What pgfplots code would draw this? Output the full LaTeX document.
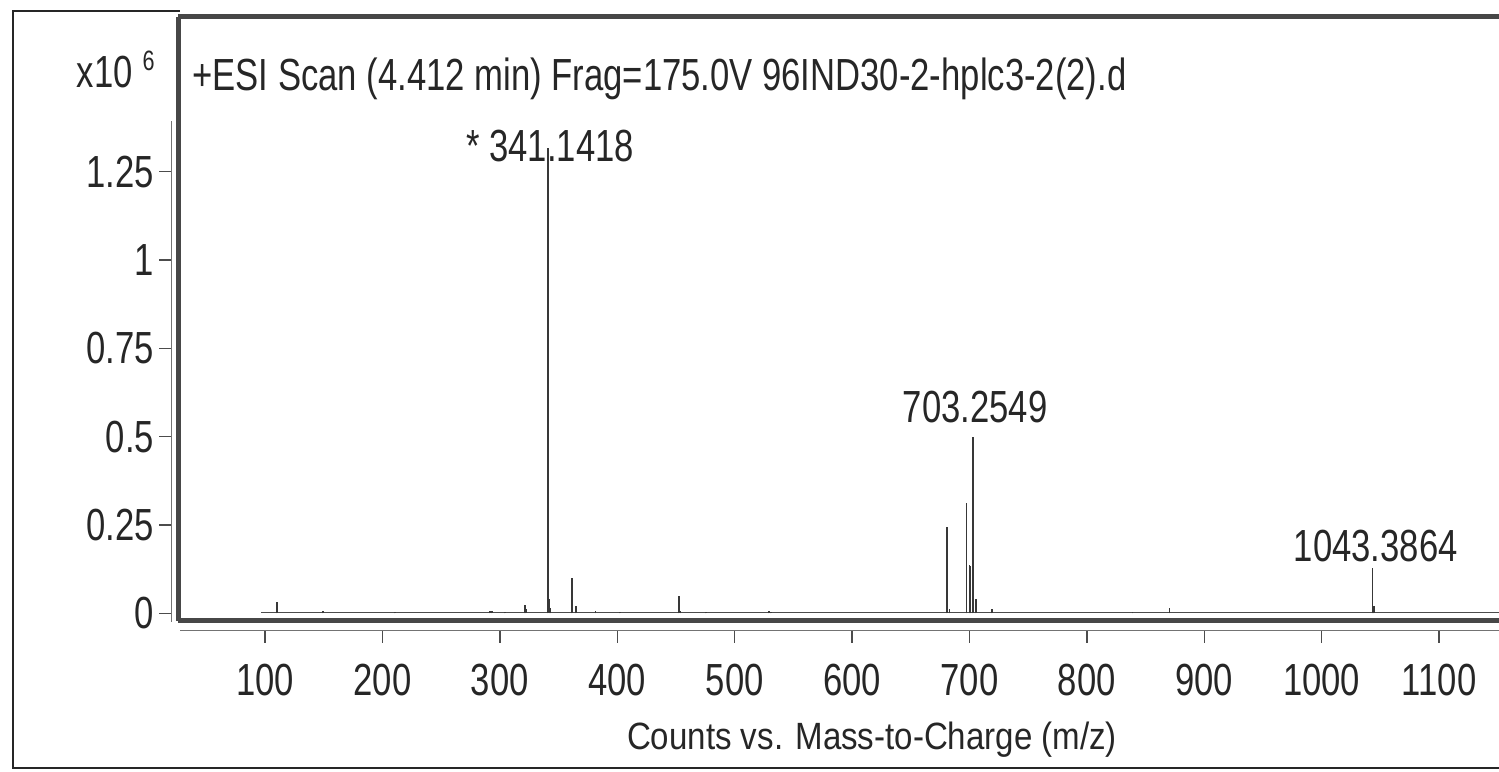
\documentclass[border=0pt]{standalone}
\usepackage{fontspec}
\setmainfont{Liberation Sans}[FakeStretch=0.77]
\newfontfamily\xlfont{Liberation Sans}[FakeStretch=0.87]
\usepackage{pgfplots}
\pgfplotsset{compat=1.18}
\begin{document}
\begin{tikzpicture}
\useasboundingbox (0,0) rectangle (749.5pt,385.5pt);
% outer frame
\draw[line width=1pt, black!85] (749.5pt,1.5pt) -- (6.5pt,1.5pt) -- (6.5pt,380pt) -- (90pt,380pt);
% thin secondary lines of the scan
\draw[line width=0.5pt, black!55] (85.5pt,74.5pt) -- (85.5pt,325pt);
\draw[line width=0.5pt, black!55] (90pt,70.2pt) -- (749.5pt,70.2pt);
\begin{axis}[
  at={(89pt,75.25pt)}, anchor=south west,
  scale only axis, width=660.5pt, height=301.75pt,
  xmin=25.9, xmax=1151, ymin=-0.0198, ymax=1.687,
  axis x line*=box, axis y line*=left,
  axis line style={line width=2.5pt, black!72},
  xtick={100,200,300,400,500,600,700,800,900,1000,1100},
  xticklabels={100,200,300,400,500,600,700,800,900,1000,1100},
  ytick={0,0.25,0.5,0.75,1,1.25},
  yticklabels={0,0.25,0.5,0.75,1,1.25},
  xtick pos=left, ytick pos=left,
  tick align=outside, major tick length=6pt,
  xtick style={black!70, line width=0.7pt, yshift=-5pt},
  ytick style={black!70, line width=0.7pt, xshift=-3.5pt},
  tick label style={font=\fontsize{22.5}{26}\selectfont, black!85},
  xticklabel style={yshift=-12.5pt},
  yticklabel style={xshift=-2.5pt},
  /pgf/number format/assume math mode=true,
  clip=false,
]
% baseline trace
\addplot[line width=0.6pt, black!70] coordinates {(97,0.003) (1151,0.003)};
% stick spectrum (x10^6 counts)
\addplot[ycomb, no marks, line width=0.8pt, black!78] coordinates {
(110.2,0.033) (149.6,0.006) (210.7,0.005) (291.5,0.006) (293.5,0.007) (304.4,0.005)
(321.3,0.025) (322.3,0.012)
(341.14,1.316) (342.14,0.040) (343.1,0.015)
(361.6,0.100) (365.0,0.020) (381.5,0.007) (402.6,0.005)
(452.8,0.050) (454.0,0.008) (475.7,0.004) (529.4,0.006) (531.0,0.005)
(681.0,0.245) (683.0,0.012)
(697.5,0.312) (700.0,0.137) (700.8,0.135)
(703.25,0.498) (705.7,0.040) (719.4,0.012)
(839.0,0.004) (870.3,0.016)
(1043.39,0.130) (1044.4,0.022)
};
\node[anchor=base, font=\fontsize{22.5}{26}\selectfont, black!85] at (axis cs:342.8,1.278) {* 341.1418};
\node[anchor=base, font=\fontsize{22.5}{26}\selectfont, black!85] at (axis cs:704.8,0.54) {703.2549};
\node[anchor=base, font=\fontsize{22.5}{26}\selectfont, black!85] at (axis cs:1046,0.148) {1043.3864};
\end{axis}
% title and multiplier
\node[anchor=base west, inner sep=0pt, font=\fontsize{22.5}{26}\selectfont, black!85] at (96pt,340pt) {+ESI Scan (4.412 min) Frag=175.0V 96IND30-2-hplc3-2(2).d};
\node[anchor=base east, inner sep=0pt, font=\fontsize{22.5}{26}\selectfont, black!85] at (77.5pt,341.5pt) {x10\hspace{5pt}\raisebox{8.5pt}{\fontsize{14}{16}\selectfont 6}};
% x axis title
\node[anchor=base, inner sep=0pt, font=\xlfont\fontsize{19}{22}\selectfont, black!85] at (436pt,10.5pt) {Counts vs. Mass-to-Charge (m/z)};
\end{tikzpicture}
\end{document}
